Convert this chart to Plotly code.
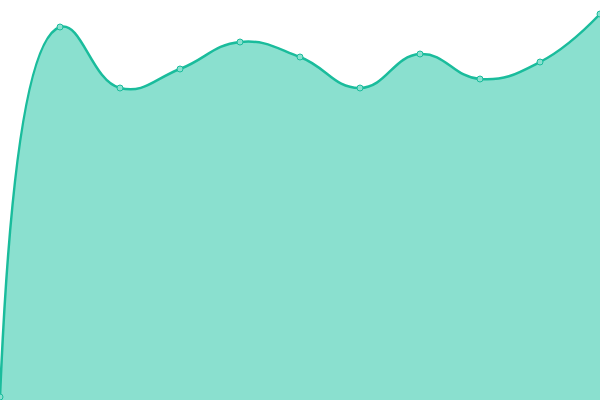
import plotly.graph_objects as go

x_vals = [0, 1, 2, 3, 4, 5, 6, 7, 8, 9, 10]
y_vals = [3, 373, 312, 331, 358, 343, 312, 346, 321, 338, 386]

fig = go.Figure()
fig.add_trace(go.Scatter(
    x=x_vals, y=y_vals,
    mode="lines+markers",
    line=dict(color="#1abc9c", width=2.5, shape="spline", smoothing=1.3),
    marker=dict(size=6, color="#8ae0cf", line=dict(color="#1abc9c", width=1)),
    fill="tozeroy",
    fillcolor="#8ae0cf",
    cliponaxis=False,
))
fig.update_layout(
    width=600, height=400,
    margin=dict(l=0, r=0, t=0, b=0),
    paper_bgcolor="white", plot_bgcolor="white",
    showlegend=False,
    xaxis=dict(range=[0, 10], visible=False, fixedrange=True),
    yaxis=dict(range=[0, 400], visible=False, fixedrange=True),
)
fig.write_html("out.html", config={"displayModeBar": False},
               post_script="document.body.style.margin='0';document.body.style.overflow='hidden';")
